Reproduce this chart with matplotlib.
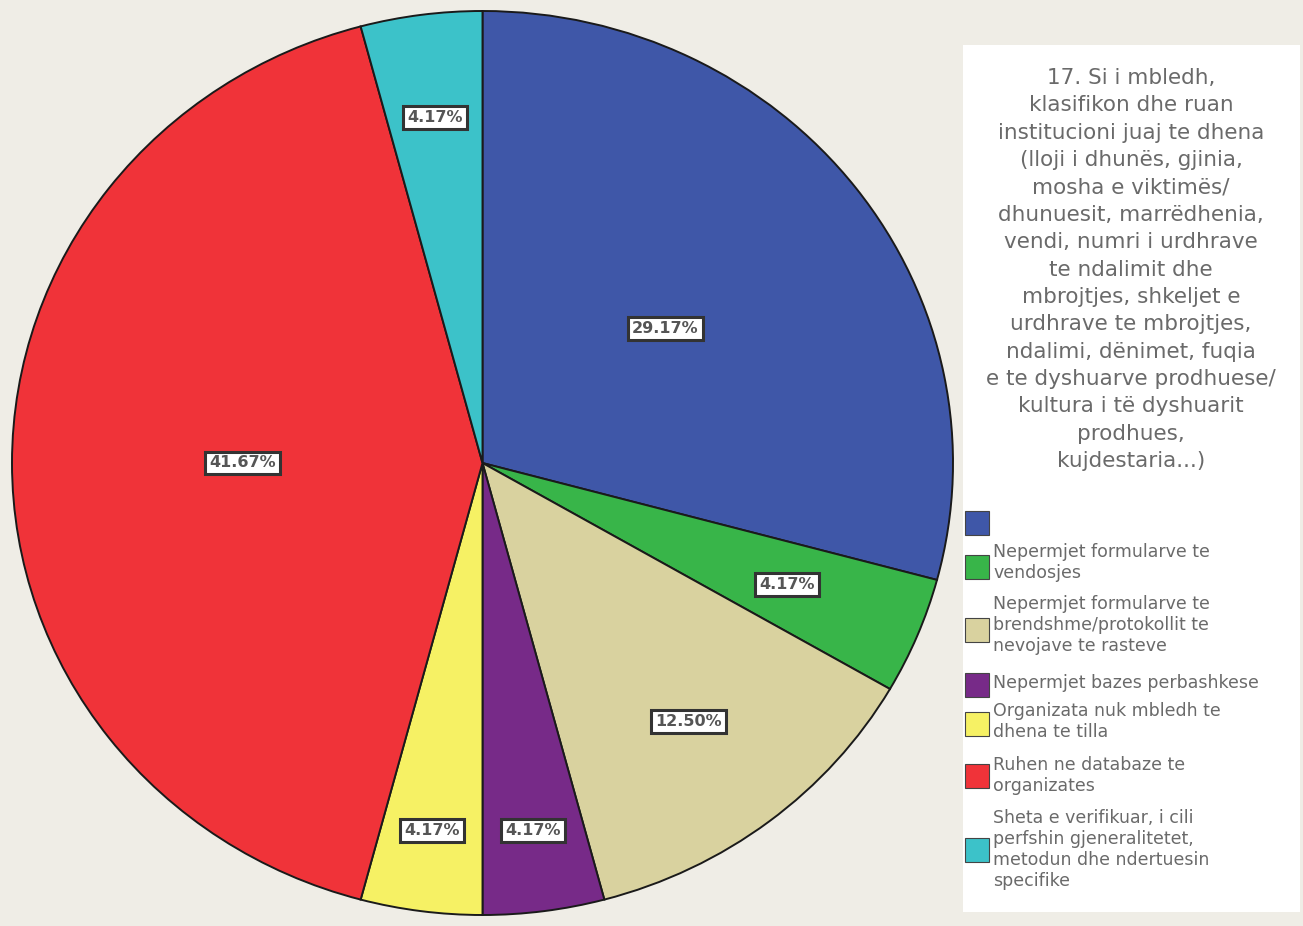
import numpy as np
import matplotlib
matplotlib.use("Agg")
from matplotlib import pyplot as plt
from matplotlib.patches import Rectangle

# Pie data (n = 24, clockwise from 12 o'clock)
shares = [29.17, 4.17, 12.50, 4.17, 4.17, 41.67, 4.17]
pct_labels = ["29.17%", "4.17%", "12.50%", "4.17%", "4.17%", "41.67%", "4.17%"]
colors = ["#3f57a8", "#38b549", "#d9d29f", "#772a88", "#f6f164", "#f03339", "#3cc2c9"]

legend_title = ("17. Si i mbledh,\nklasifikon dhe ruan\ninstitucioni juaj te dhena\n"
                "(lloji i dhunës, gjinia,\nmosha e viktimës/\ndhunuesit, marrëdhenia,\n"
                "vendi, numri i urdhrave\nte ndalimit dhe\nmbrojtjes, shkeljet e\n"
                "urdhrave te mbrojtjes,\nndalimi, dënimet, fuqia\ne te dyshuarve prodhuese/\n"
                "kultura i të dyshuarit\nprodhues,\nkujdestaria...)")
legend_labels = [
    "",
    "Nepermjet formularve te\nvendosjes",
    "Nepermjet formularve te\nbrendshme/protokollit te\nnevojave te rasteve",
    "Nepermjet bazes perbashkese",
    "Organizata nuk mbledh te\ndhena te tilla",
    "Ruhen ne databaze te\norganizates",
    "Sheta e verifikuar, i cili\nperfshin gjeneralitetet,\nmetodun dhe ndertuesin\nspecifike",
]

# where each percentage box sits, as fraction of the radius
label_r = [0.49, 0.70, 0.72, 0.82, 0.82, 0.51, 0.77]

W, H = 1303, 926
fig = plt.figure(figsize=(W / 100, H / 100), dpi=100)
fig.patch.set_facecolor("#efede6")

# pie axes (slightly squashed vertically, like the reference)
ax = fig.add_axes([12 / W, 11 / H, 941 / W, 904 / H])
wedges, _ = ax.pie(shares, colors=colors, startangle=90, counterclock=False,
                   wedgeprops=dict(edgecolor="#1a1a1a", linewidth=1.4))
ax.set_aspect("auto")
ax.set_xlim(-1, 1)
ax.set_ylim(-1, 1)
ax.axis("off")

for w, txt, r in zip(wedges, pct_labels, label_r):
    mid = np.deg2rad((w.theta1 + w.theta2) / 2)
    ax.text(r * np.cos(mid), r * np.sin(mid), txt, ha="center", va="center",
            fontsize=11.5, color="#555555", fontweight="bold",
            bbox=dict(boxstyle="square,pad=0.25", facecolor="white",
                      edgecolor="#333333", linewidth=2.2))

# legend panel, drawn in pixel coords (y down)
lax = fig.add_axes([963 / W, 14 / H, 337 / W, 898 / H])
lax.set_xlim(963, 1300)
lax.set_ylim(926 - 14, 926 - 14 - 898)
lax.axis("off")
lax.add_patch(Rectangle((963, 45), 337, 867, facecolor="white", edgecolor="none"))

lax.text(1131, 68, legend_title, ha="center", va="top", fontsize=15.5,
         color="#6a6a6a", linespacing=1.46)

text_top = [512, 543, 595, 674, 702, 756, 809]
swatch_mid = [523, 567, 630, 685, 724, 776, 850]
for yt, ys, c, lab in zip(text_top, swatch_mid, colors, legend_labels):
    lax.add_patch(Rectangle((965, ys - 12), 24, 24, facecolor=c,
                            edgecolor="#444444", linewidth=0.8))
    lax.text(993, yt, lab, ha="left", va="top", fontsize=12.5, color="#6a6a6a",
             linespacing=1.22)

fig.savefig("out.png", dpi=100, facecolor=fig.get_facecolor())
